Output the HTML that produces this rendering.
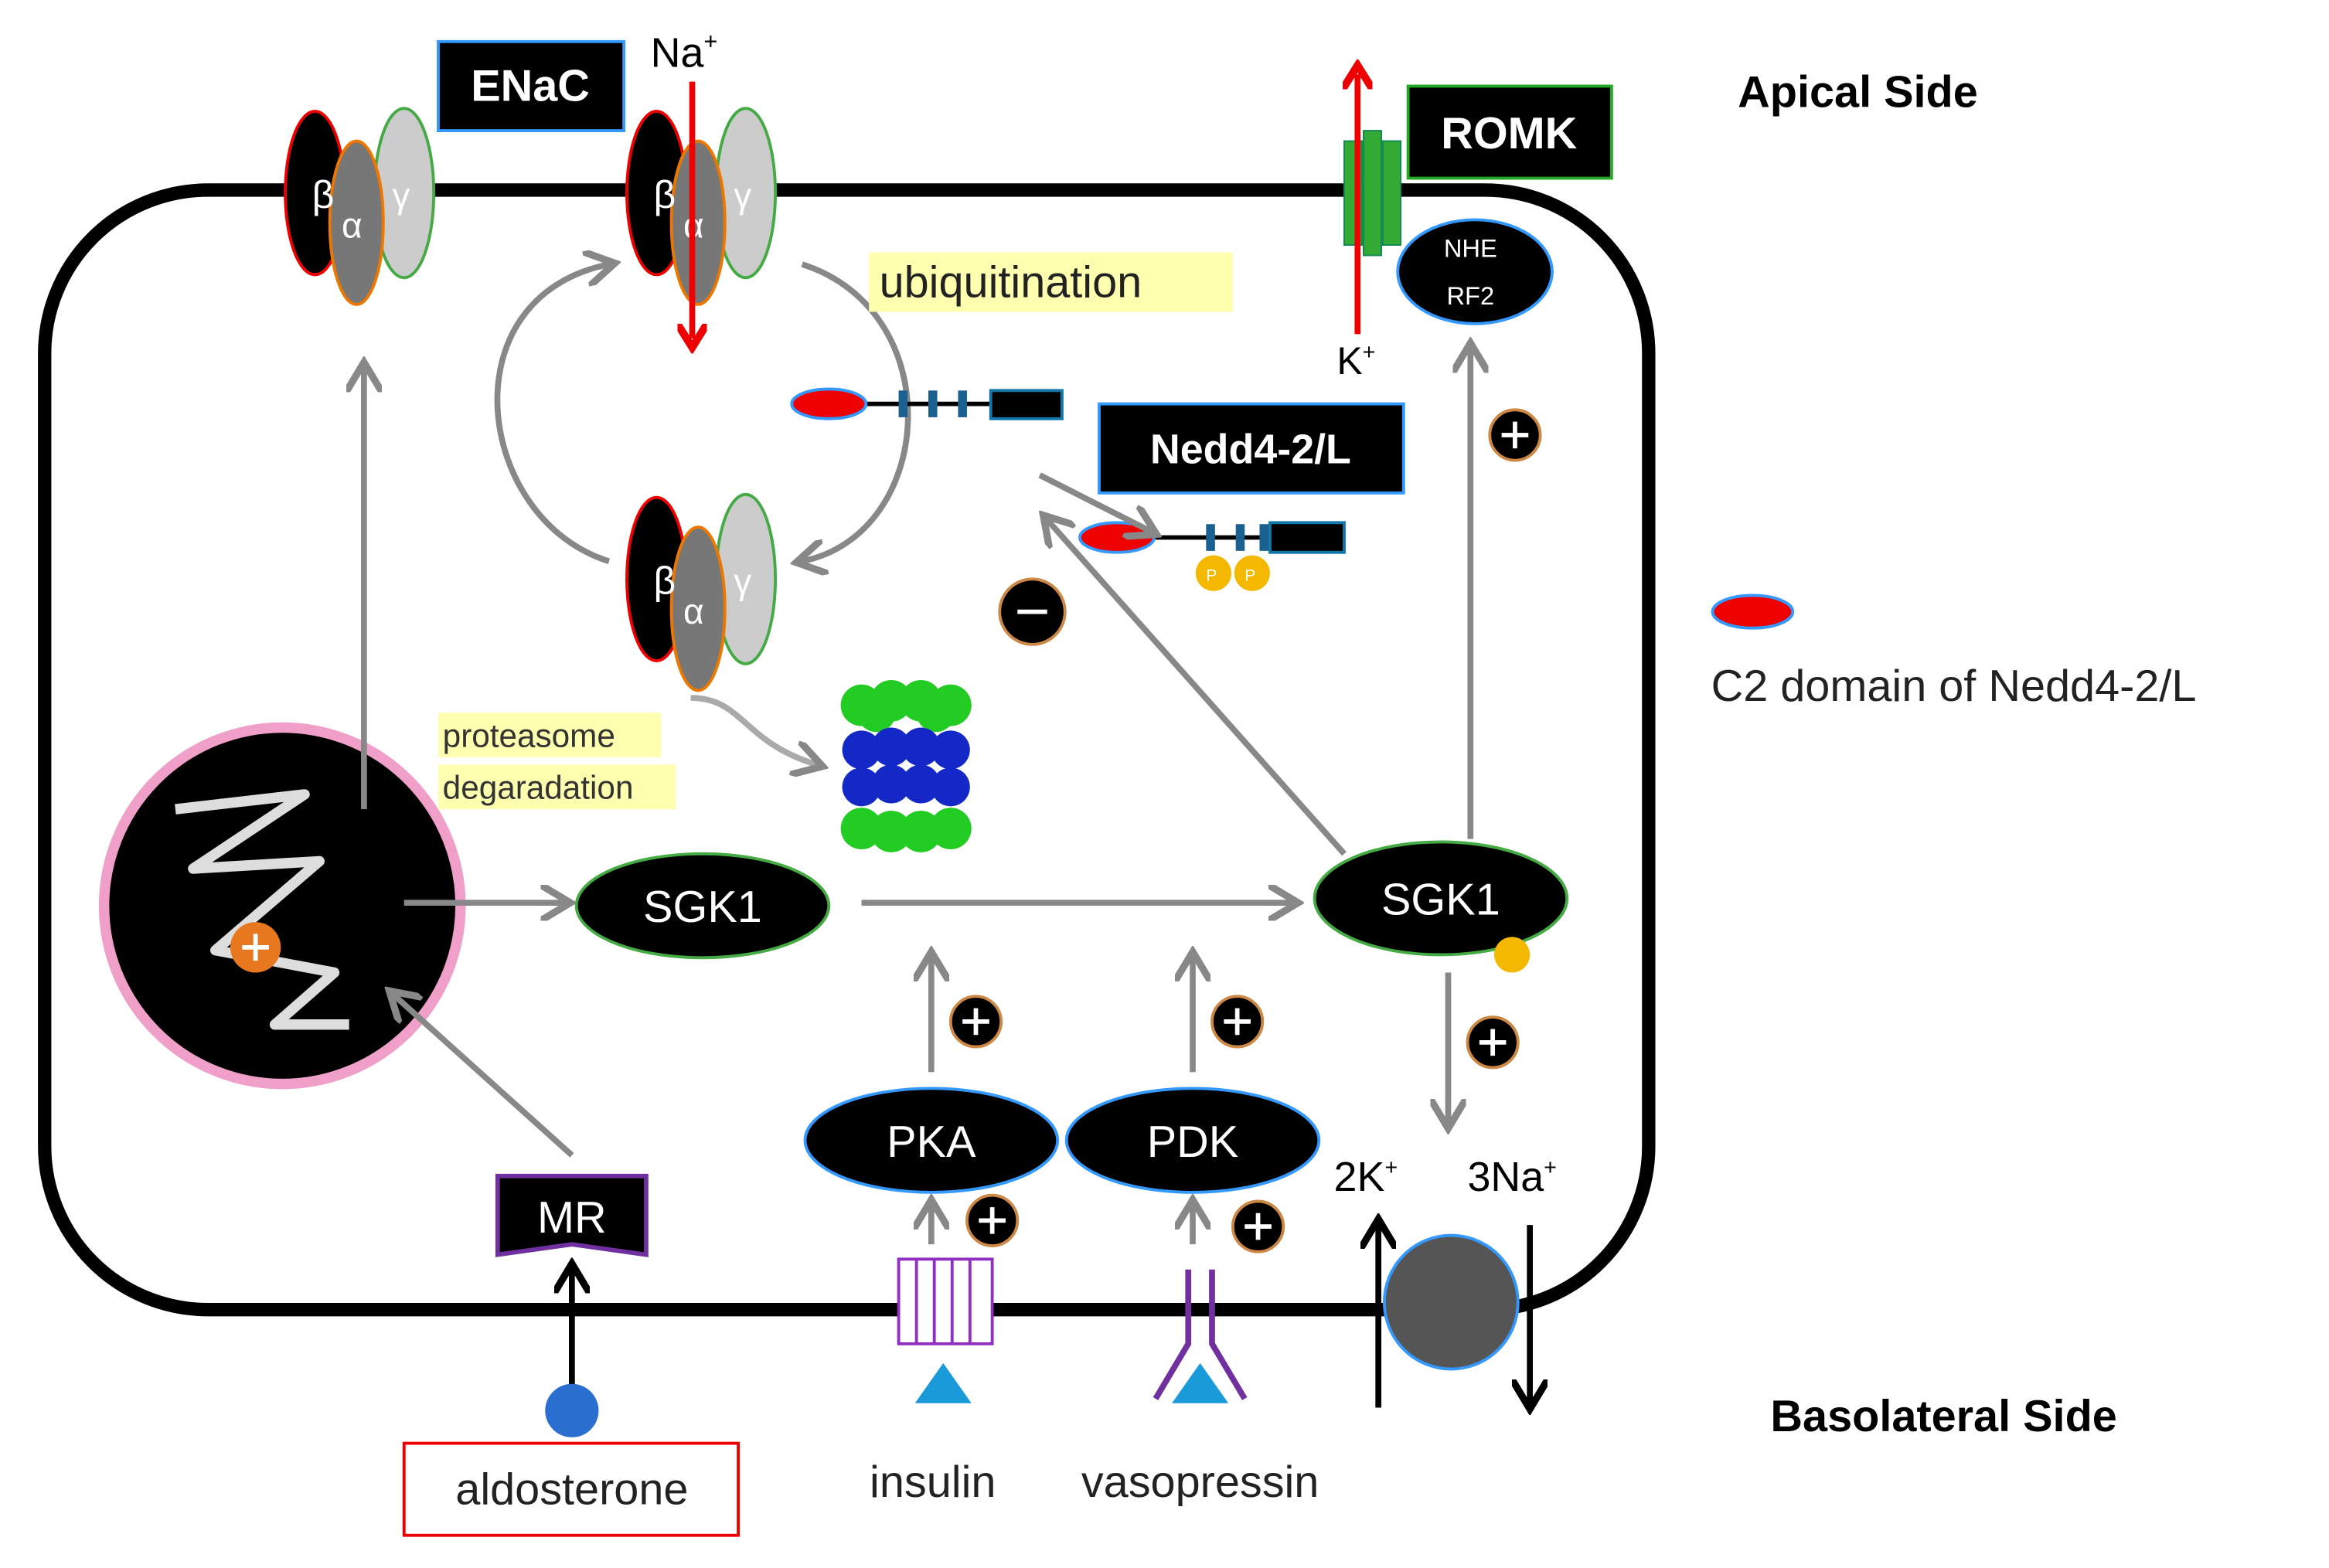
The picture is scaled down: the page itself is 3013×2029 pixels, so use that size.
<!DOCTYPE html>
<html><head><meta charset="utf-8"><style>html,body{margin:0;padding:0;background:#fff}svg{display:block}</style></head>
<body>
<svg xmlns="http://www.w3.org/2000/svg" width="3013" height="2029" viewBox="0 0 1568 1056" font-family="Liberation Sans, DejaVu Sans, sans-serif">
<defs>
<marker id="ag" markerWidth="6" markerHeight="6" refX="4" refY="3" orient="auto" markerUnits="strokeWidth"><path d="M0,0 L5,3 L0,6" fill="none" stroke="#888" stroke-width="1.2"/></marker>
<marker id="ak" markerWidth="6" markerHeight="6" refX="4" refY="3" orient="auto" markerUnits="strokeWidth"><path d="M0,0 L5,3 L0,6" fill="none" stroke="#000" stroke-width="1.2"/></marker>
<marker id="ar" markerWidth="5" markerHeight="5" refX="2.5" refY="2.5" orient="auto" markerUnits="strokeWidth"><path d="M0,0 L4,2.5 L0,5" fill="none" stroke="#e00" stroke-width="1.3"/></marker>
<g id="plus"><circle r="17" fill="#000" stroke="#c84" stroke-width="2"/><path d="M-9,0H9M0,-9V9" stroke="#fff" stroke-width="3"/></g>
<g id="chan">
<ellipse cx="-28" cy="0" rx="20" ry="55" fill="#000" stroke="#e00" stroke-width="2"/>
<ellipse cx="32" cy="0" rx="20" ry="57" fill="#ccc" stroke="#4a4" stroke-width="2"/>
<ellipse cx="0" cy="20" rx="18" ry="55" fill="#777" stroke="#e70" stroke-width="2"/>
<text x="-30" y="10" fill="#fff" font-size="26">β</text>
<text x="-10" y="30" fill="#fff" font-size="24">α</text>
<text x="24" y="10" fill="#fff" font-size="24">γ</text>
</g>
</defs>
<rect width="1568" height="1056" fill="#fff"/>
<rect x="30" y="128" width="1080" height="754" rx="110" fill="none" stroke="#000" stroke-width="9"/>

<use href="#chan" x="240" y="130"/>
<use href="#chan" x="470" y="130"/>
<use href="#chan" x="470" y="390"/>
<line x1="466" y1="55" x2="466" y2="228" stroke="#e00" stroke-width="4" marker-end="url(#ar)"/>

<rect x="295" y="28" width="125" height="60" fill="#000" stroke="#39f" stroke-width="2"/>
<text x="357" y="68" fill="#fff" font-size="30" font-weight="bold" text-anchor="middle">ENaC</text>
<text x="438" y="45" font-size="28">Na<tspan font-size="16" dy="-12">+</tspan></text>
<rect x="948" y="58" width="137" height="62" fill="#000" stroke="#2a2" stroke-width="2"/>
<text x="1016" y="100" fill="#fff" font-size="30" font-weight="bold" text-anchor="middle">ROMK</text>
<text x="1170" y="72" font-size="30" font-weight="bold">Apical Side</text>
<text x="1192" y="964" font-size="30" font-weight="bold">Basolateral Side</text>

<path d="M410,378 C320,350 300,200 410,178" fill="none" stroke="#888" stroke-width="4" marker-end="url(#ag)"/>
<path d="M540,178 C640,210 630,360 540,378" fill="none" stroke="#888" stroke-width="4" marker-end="url(#ag)"/>

<rect x="585" y="170" width="245" height="40" fill="#ffffb0"/>
<text x="592" y="200" font-size="30" fill="#222">ubiquitination</text>

<line x1="580" y1="272" x2="667" y2="272" stroke="#000" stroke-width="3"/>
<rect x="605" y="263" width="6" height="18" fill="#1a6090"/><rect x="625" y="263" width="6" height="18" fill="#1a6090"/><rect x="645" y="263" width="6" height="18" fill="#1a6090"/>
<rect x="667" y="263" width="48" height="19" fill="#000" stroke="#17a" stroke-width="2"/>
<ellipse cx="558" cy="272" rx="25" ry="10" fill="#e00" stroke="#39f" stroke-width="2"/>

<rect x="740" y="272" width="205" height="60" fill="#000" stroke="#39f" stroke-width="2"/>
<text x="842" y="312" fill="#fff" font-size="28" font-weight="bold" text-anchor="middle">Nedd4-2/L</text>

<line x1="775" y1="362" x2="855" y2="362" stroke="#000" stroke-width="3"/>
<rect x="812" y="353" width="6" height="18" fill="#1a6090"/><rect x="832" y="353" width="6" height="18" fill="#1a6090"/><rect x="848" y="353" width="6" height="18" fill="#1a6090"/>
<rect x="855" y="352" width="50" height="20" fill="#000" stroke="#17a" stroke-width="2"/>
<ellipse cx="752" cy="362" rx="25" ry="10" fill="#e00" stroke="#39f" stroke-width="2"/>
<circle cx="817" cy="386" r="12" fill="#f5b800"/><circle cx="843" cy="386" r="12" fill="#f5b800"/>
<text x="812" y="391" font-size="11" fill="#fff">P</text><text x="838" y="391" font-size="11" fill="#fff">P</text>

<line x1="700" y1="320" x2="775" y2="358" stroke="#888" stroke-width="4" marker-end="url(#ag)"/>
<line x1="905" y1="575" x2="705" y2="350" stroke="#888" stroke-width="4" marker-end="url(#ag)"/>
<circle cx="695" cy="412" r="22" fill="#000" stroke="#c84" stroke-width="2"/><line x1="685" y1="412" x2="705" y2="412" stroke="#fff" stroke-width="3"/>

<!-- proteasome -->
<g>
<g fill="#2c2"><circle cx="580" cy="475" r="14"/><circle cx="600" cy="472" r="14"/><circle cx="620" cy="472" r="14"/><circle cx="640" cy="475" r="14"/><circle cx="590" cy="480" r="13"/><circle cx="630" cy="480" r="13"/></g>
<g fill="#1428c8"><circle cx="580" cy="505" r="13"/><circle cx="600" cy="503" r="13"/><circle cx="620" cy="503" r="13"/><circle cx="640" cy="505" r="13"/><circle cx="580" cy="530" r="13"/><circle cx="600" cy="528" r="13"/><circle cx="620" cy="528" r="13"/><circle cx="640" cy="530" r="13"/></g>
<g fill="#2c2"><circle cx="580" cy="558" r="14"/><circle cx="600" cy="560" r="14"/><circle cx="620" cy="560" r="14"/><circle cx="640" cy="558" r="14"/></g>
</g>
<rect x="295" y="480" width="150" height="30" fill="#ffffb0"/><rect x="295" y="515" width="160" height="30" fill="#ffffb0"/>
<text x="298" y="503" font-size="22" fill="#333">proteasome</text>
<text x="298" y="538" font-size="22" fill="#333">degaradation</text>
<path d="M465,470 C500,470 500,500 550,515" fill="none" stroke="#aaa" stroke-width="4" marker-end="url(#ag)"/>

<!-- nucleus -->
<circle cx="190" cy="610" r="120" fill="#000" stroke="#f0a0c8" stroke-width="7"/>
<path d="M118,545 L205,535 L130,585 L215,580 L145,640 L225,655 L185,690 L235,690" fill="none" stroke="#ddd" stroke-width="7" stroke-linejoin="round"/>
<circle cx="172" cy="638" r="17" fill="#e87820"/><path d="M163,638H181M172,629V647" stroke="#fff" stroke-width="3"/>

<line x1="245" y1="545" x2="245" y2="248" stroke="#888" stroke-width="4" marker-end="url(#ag)"/>
<line x1="272" y1="608" x2="380" y2="608" stroke="#888" stroke-width="4" marker-end="url(#ag)"/>
<line x1="580" y1="608" x2="870" y2="608" stroke="#888" stroke-width="4" marker-end="url(#ag)"/>
<line x1="990" y1="565" x2="990" y2="235" stroke="#888" stroke-width="4" marker-end="url(#ag)"/>
<line x1="975" y1="655" x2="975" y2="756" stroke="#888" stroke-width="4" marker-end="url(#ag)"/>

<ellipse cx="473" cy="610" rx="85" ry="35" fill="#000" stroke="#4a4" stroke-width="2"/>
<text x="473" y="621" fill="#fff" font-size="30" text-anchor="middle">SGK1</text>
<ellipse cx="970" cy="605" rx="85" ry="38" fill="#000" stroke="#4a4" stroke-width="2"/>
<text x="970" y="616" fill="#fff" font-size="30" text-anchor="middle">SGK1</text>
<circle cx="1018" cy="643" r="12" fill="#f5b800"/>

<ellipse cx="627" cy="768" rx="85" ry="35" fill="#000" stroke="#39f" stroke-width="2"/>
<text x="627" y="779" fill="#fff" font-size="30" text-anchor="middle">PKA</text>
<ellipse cx="803" cy="768" rx="85" ry="35" fill="#000" stroke="#39f" stroke-width="2"/>
<text x="803" y="779" fill="#fff" font-size="30" text-anchor="middle">PDK</text>
<line x1="627" y1="722" x2="627" y2="645" stroke="#888" stroke-width="4" marker-end="url(#ag)"/>
<line x1="803" y1="722" x2="803" y2="645" stroke="#888" stroke-width="4" marker-end="url(#ag)"/>
<line x1="627" y1="838" x2="627" y2="812" stroke="#888" stroke-width="4" marker-end="url(#ag)"/>
<line x1="803" y1="838" x2="803" y2="812" stroke="#888" stroke-width="4" marker-end="url(#ag)"/>

<use href="#plus" x="1020" y="293"/><use href="#plus" x="657" y="688"/><use href="#plus" x="833" y="688"/>
<use href="#plus" x="1005" y="702"/><use href="#plus" x="668" y="822"/><use href="#plus" x="847" y="826"/>

<!-- ROMK -->
<rect x="905" y="95" width="12" height="70" fill="#3a3" stroke="#185" stroke-width="1"/>
<rect x="918" y="88" width="12" height="84" fill="#3a3" stroke="#185" stroke-width="1"/>
<rect x="931" y="95" width="12" height="70" fill="#3a3" stroke="#185" stroke-width="1"/>
<line x1="914" y1="225" x2="914" y2="50" stroke="#e00" stroke-width="4" marker-end="url(#ar)"/>
<text x="900" y="252" font-size="26">K<tspan font-size="15" dy="-10">+</tspan></text>
<ellipse cx="993" cy="183" rx="52" ry="35" fill="#000" stroke="#39f" stroke-width="2"/>
<text x="990" y="173" fill="#fff" font-size="17" text-anchor="middle">NHE</text>
<text x="990" y="205" fill="#fff" font-size="17" text-anchor="middle">RF2</text>

<!-- MR/aldosterone -->
<line x1="385" y1="778" x2="265" y2="670" stroke="#888" stroke-width="4" marker-end="url(#ag)"/>
<path d="M335,792 H435 V845 L385,838 L335,845 Z" fill="#000" stroke="#7030a0" stroke-width="3"/>
<text x="385" y="830" fill="#fff" font-size="30" text-anchor="middle">MR</text>
<line x1="385" y1="935" x2="385" y2="855" stroke="#000" stroke-width="4" marker-end="url(#ak)"/>
<circle cx="385" cy="950" r="18" fill="#2a6fd0"/>
<rect x="272" y="972" width="225" height="62" fill="#fff" stroke="#e00" stroke-width="2"/>
<text x="385" y="1013" font-size="30" text-anchor="middle" fill="#222">aldosterone</text>

<!-- insulin receptor -->
<rect x="605" y="848" width="63" height="57" fill="#fff" stroke="#9030c0" stroke-width="2"/>
<path d="M617,848V905M629,848V905M641,848V905M653,848V905" stroke="#9030c0" stroke-width="2"/>
<path d="M635,918 L616,945 L654,945 Z" fill="#1a9ad8"/>
<text x="628" y="1008" font-size="30" text-anchor="middle" fill="#222">insulin</text>

<!-- vasopressin receptor -->
<path d="M800,855 V905 L778,942 M816,855 V905 L838,942" fill="none" stroke="#7030a0" stroke-width="4"/>
<path d="M808,918 L789,945 L827,945 Z" fill="#1a9ad8"/>
<text x="808" y="1008" font-size="30" text-anchor="middle" fill="#222">vasopressin</text>

<!-- pump -->
<circle cx="977" cy="877" r="45" fill="#555" stroke="#39f" stroke-width="2"/>
<line x1="928" y1="948" x2="928" y2="825" stroke="#000" stroke-width="4" marker-end="url(#ak)"/>
<line x1="1030" y1="825" x2="1030" y2="945" stroke="#000" stroke-width="4" marker-end="url(#ak)"/>
<text x="898" y="802" font-size="28">2K<tspan font-size="15" dy="-11">+</tspan></text>
<text x="988" y="802" font-size="28">3Na<tspan font-size="15" dy="-11">+</tspan></text>

<!-- legend -->
<ellipse cx="1180" cy="412" rx="27" ry="11" fill="#e00" stroke="#39f" stroke-width="2"/>
<text x="1152" y="472" font-size="30" fill="#222">C2 domain of Nedd4-2/L</text>
</svg>
</body></html>
